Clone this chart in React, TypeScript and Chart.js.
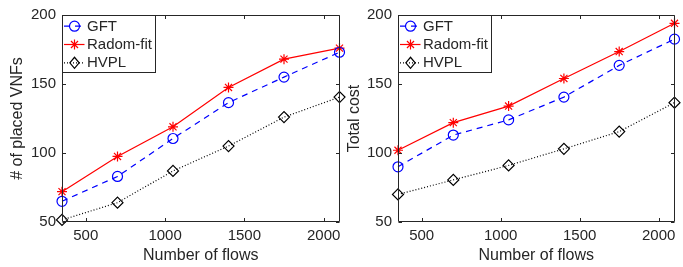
import React, { useEffect, useRef } from 'react';
import { Chart, registerables } from 'chart.js';

Chart.register(...registerables);

// ---------- data ----------
const flows = [350, 700, 1050, 1400, 1750, 2100];
const xTicks = [500, 1000, 1500, 2000];
const yTicks = [50, 100, 150, 200];
const seriesNames = ['GFT', 'Radom-fit', 'HVPL'];

const placedGFT = [65, 83, 110.5, 136.5, 155, 173];
const placedRadom = [72, 97.5, 119, 147.5, 168, 176];
const placedHVPL = [51.5, 64, 87, 105, 126, 140.5];

const costGFT = [90, 113, 124, 140.5, 163.5, 182.5];
const costRadom = [102, 122, 134, 154, 173.5, 194];
const costHVPL = [70, 80.5, 91, 103, 115.5, 136.5];

const xTitle = 'Number of flows';
const leftYTitle = '# of placed VNFs';
const rightYTitle = 'Total cost';

// ---------- styles ----------
const AXIS = '#262626';
const FONT = "'Liberation Sans', Arial, Helvetica, sans-serif";
const STYLES = [
  { color: '#0000ff', dash: [6, 5], point: 'circle', radius: 5 },
  { color: '#ff0000', dash: [] as number[], point: 'star', radius: 5 },
  { color: '#000000', dash: [1, 2], point: 'rectRot', radius: 5.5 },
];

function drawMarker(ctx: CanvasRenderingContext2D, type: string, x: number, y: number, r: number, color: string) {
  ctx.save();
  ctx.setLineDash([]);
  ctx.strokeStyle = color;
  ctx.lineWidth = 1.2;
  ctx.beginPath();
  if (type === 'circle') {
    ctx.arc(x, y, r, 0, Math.PI * 2);
  } else if (type === 'star') {
    const d = r * Math.SQRT1_2;
    ctx.moveTo(x - r, y); ctx.lineTo(x + r, y);
    ctx.moveTo(x, y - r); ctx.lineTo(x, y + r);
    ctx.moveTo(x - d, y - d); ctx.lineTo(x + d, y + d);
    ctx.moveTo(x - d, y + d); ctx.lineTo(x + d, y - d);
  } else {
    ctx.moveTo(x - r * 0.85, y); ctx.lineTo(x, y - r); ctx.lineTo(x + r * 0.85, y); ctx.lineTo(x, y + r); ctx.closePath();
  }
  ctx.stroke();
  ctx.restore();
}

const matlabPlugin = {
  id: 'matlabBox',
  afterDraw(chart: any) {
    const { ctx, chartArea: a, scales } = chart;
    const L = Math.round(a.left) + 0.5;
    const R = Math.round(a.right) - 0.5;
    const T = Math.round(a.top) + 0.5;
    const B = Math.round(a.bottom) - 0.5;
    ctx.save();
    ctx.strokeStyle = AXIS;
    ctx.lineWidth = 1;
    ctx.setLineDash([]);
    ctx.beginPath();
    ctx.rect(L, T, R - L, B - T);
    const tl = 3.5;
    xTicks.forEach((v) => {
      const px = Math.round(scales.x.getPixelForValue(v)) + 0.5;
      ctx.moveTo(px, B); ctx.lineTo(px, B - tl);
      ctx.moveTo(px, T); ctx.lineTo(px, T + tl);
    });
    yTicks.forEach((v) => {
      const py = Math.round(scales.y.getPixelForValue(v)) + 0.5;
      ctx.moveTo(L, py); ctx.lineTo(L + tl, py);
      ctx.moveTo(R, py); ctx.lineTo(R - tl, py);
    });
    ctx.stroke();

    // legend
    const lw = 93, lh = 57;
    const lx = L, ly = T;
    ctx.fillStyle = '#ffffff';
    ctx.fillRect(lx, ly, lw, lh);
    ctx.strokeStyle = AXIS;
    ctx.strokeRect(lx, ly, lw, lh);
    const rows = [10.7, 29, 47.3];
    ctx.font = `15px ${FONT}`;
    ctx.textBaseline = 'middle';
    ctx.textAlign = 'left';
    chart.data.datasets.forEach((ds: any, i: number) => {
      const st = STYLES[i];
      const y = ly + rows[i];
      ctx.save();
      ctx.strokeStyle = st.color;
      ctx.lineWidth = 1.2;
      ctx.setLineDash(st.dash);
      ctx.beginPath();
      ctx.moveTo(lx + 1.5, y);
      ctx.lineTo(lx + 22, y);
      ctx.stroke();
      ctx.restore();
      drawMarker(ctx, st.point, lx + 12, y, st.radius, st.color);
      ctx.fillStyle = AXIS;
      ctx.fillText(ds.label, lx + 24.5, y + 0.5);
    });
    ctx.restore();
  },
};

function makeDatasets(values: number[][]) {
  return values.map((vals, i) => {
    const st = STYLES[i];
    return {
      label: seriesNames[i],
      data: flows.map((x, j) => ({ x, y: vals[j] })),
      borderColor: st.color,
      backgroundColor: 'rgba(0,0,0,0)',
      borderWidth: 1.2,
      borderDash: st.dash,
      pointStyle: st.point,
      pointRadius: st.radius,
      pointBorderWidth: 1.2,
      pointBorderColor: st.color,
      pointBackgroundColor: 'rgba(0,0,0,0)',
      tension: 0,
      clip: 12,
    };
  });
}

type PlotProps = {
  values: number[][];
  yTitle: string;
  width: number;
  yWidth: number;
  rightPad: number;
  yTitlePad: number;
  left: number;
};

function Plot({ values, yTitle, width, yWidth, rightPad, yTitlePad, left }: PlotProps) {
  const ref = useRef<HTMLCanvasElement>(null);
  useEffect(() => {
    if (!ref.current) return;
    const chart = new Chart(ref.current, {
      type: 'line',
      data: { datasets: makeDatasets(values) as any },
      options: {
        animation: false,
        responsive: false,
        maintainAspectRatio: false,
        layout: { padding: { top: 13, right: rightPad, left: 0, bottom: 0 } },
        plugins: { legend: { display: false }, tooltip: { enabled: false } },
        scales: {
          x: {
            type: 'linear',
            min: 350,
            max: 2100,
            afterBuildTicks: (s: any) => { s.ticks = xTicks.map((v) => ({ value: v })); },
            afterFit: (s: any) => { s.height = 45; },
            grid: { display: false, drawTicks: false },
            border: { display: false },
            ticks: { font: { family: FONT, size: 15 }, color: AXIS, padding: 5, maxRotation: 0, autoSkip: false, callback: (v: any) => String(v) },
            title: { display: true, text: xTitle, font: { family: FONT, size: 16 }, color: AXIS, padding: { top: 0, bottom: 1.5 } },
          },
          y: {
            type: 'linear',
            min: 50,
            max: 200,
            afterBuildTicks: (s: any) => { s.ticks = yTicks.map((v) => ({ value: v })); },
            afterFit: (s: any) => { s.width = yWidth; },
            grid: { display: false, drawTicks: false },
            border: { display: false },
            ticks: { font: { family: FONT, size: 15 }, color: AXIS, padding: 6, autoSkip: false, callback: (v: any) => String(v) },
            title: { display: true, text: yTitle, font: { family: FONT, size: 16 }, color: AXIS, padding: { top: yTitlePad, bottom: 0 } },
          },
        },
      },
      plugins: [matlabPlugin],
    });
    return () => chart.destroy();
  }, []);
  return (
    <canvas
      ref={ref}
      width={width}
      height={267}
      style={{ position: 'absolute', left, top: 0, width, height: 267 }}
    />
  );
}

export default function App() {
  return (
    <div style={{ position: 'fixed', left: 0, top: 0, width: 683, height: 267, background: '#fff', overflow: 'hidden' }}>
      <Plot values={[placedGFT, placedRadom, placedHVPL]} yTitle={leftYTitle} width={350} yWidth={62} rightPad={10.5} yTitlePad={8} left={0} />
      <Plot values={[costGFT, costRadom, costHVPL]} yTitle={rightYTitle} width={341} yWidth={56} rightPad={8.5} yTitlePad={3} left={342} />
    </div>
  );
}
